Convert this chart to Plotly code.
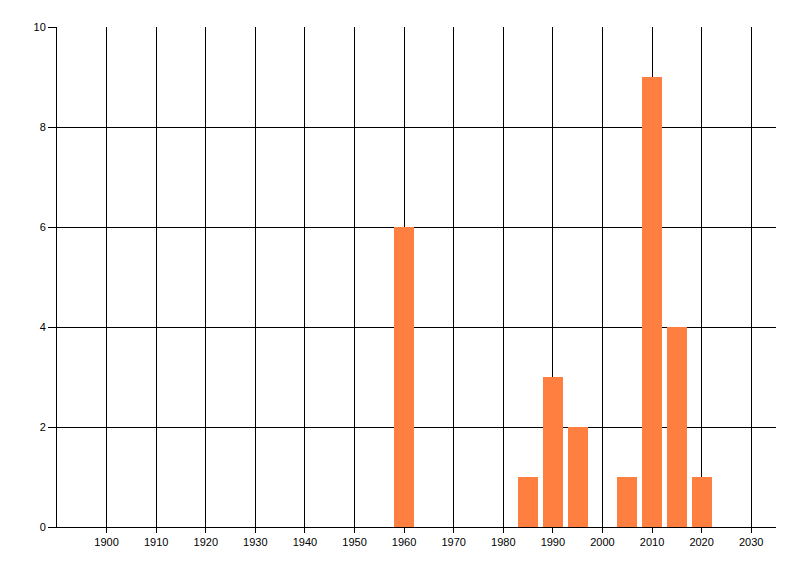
import plotly.graph_objects as go

years = [1960, 1985, 1990, 1995, 2005, 2010, 2015, 2020]
counts = [6, 1, 3, 2, 1, 9, 4, 1]
x_ticks = list(range(1900, 2031, 10))
y_ticks = [0, 2, 4, 6, 8, 10]

fig = go.Figure()
fig.add_trace(go.Bar(x=years, y=counts, width=4, marker=dict(color="#FF7F40", line=dict(width=0))))

fig.update_layout(
    width=800, height=576,
    margin=dict(l=49, r=32, t=19, b=57),
    paper_bgcolor="white", plot_bgcolor="white",
    showlegend=False,
    font=dict(family="Liberation Sans, Arial, sans-serif", size=11, color="black"),
    bargap=0,
)
fig.update_xaxes(
    range=[1890, 2035], tickvals=x_ticks, ticktext=[str(t) for t in x_ticks],
    showgrid=True, gridcolor="black", gridwidth=1,
    ticks="outside", ticklen=5, tickcolor="black",
    showline=True, linecolor="black", linewidth=1,
    zeroline=False, layer="below traces",
)
fig.update_yaxes(
    range=[0, 10], tickvals=y_ticks,
    showgrid=True, gridcolor="black", gridwidth=1,
    ticks="outside", ticklen=8, tickcolor="black",
    showline=True, linecolor="black", linewidth=1,
    zeroline=False, layer="below traces",
)
fig.write_html("out.html")
